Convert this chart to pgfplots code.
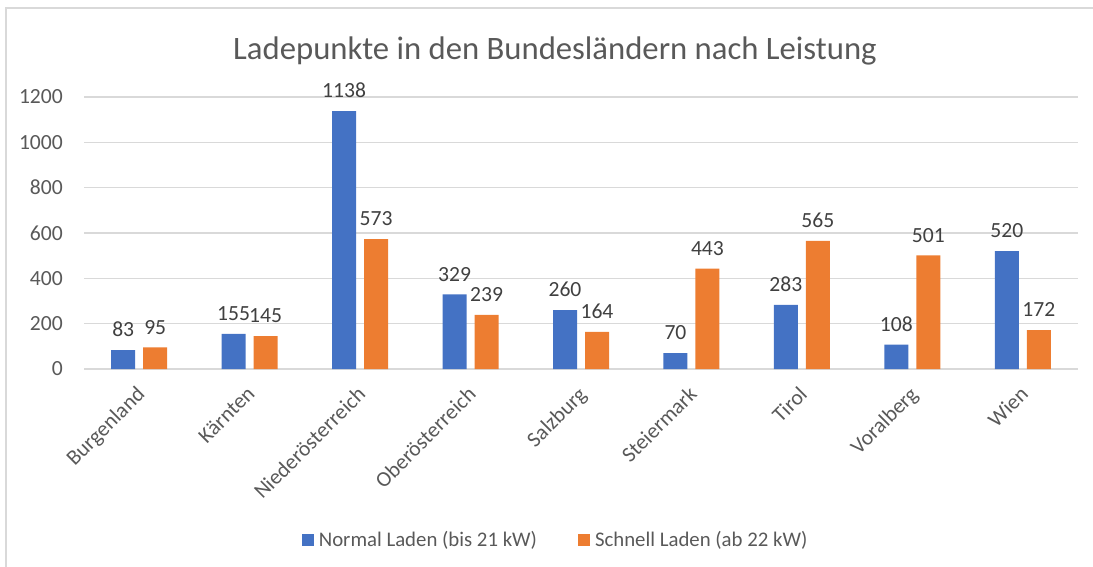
\documentclass[border=0pt]{standalone}
\usepackage{pgfplots}
\pgfplotsset{compat=1.18}
\usepackage{fontspec}
\setmainfont{Carlito}
\definecolor{cblue}{HTML}{4472C4}
\definecolor{corange}{HTML}{ED7D31}
\definecolor{cgrid}{HTML}{D9D9D9}
\definecolor{ctext}{HTML}{595959}
\definecolor{clabel}{HTML}{404040}
\begin{document}
\begin{tikzpicture}
\useasboundingbox (0,0) rectangle (1093bp,567bp);
\draw[cgrid, line width=2bp] (6bp,-2bp) -- (6bp,559bp) -- (1095bp,559bp);
\node[anchor=base, text=ctext, font=\fontsize{32.7bp}{40bp}\selectfont] at (555bp,507bp) {Ladepunkte in den Bundesländern nach Leistung};
\begin{axis}[
  at={(84bp,198bp)}, anchor=south west,
  scale only axis, width=994bp, height=272bp,
  ybar=8bp, bar width=24bp,
  xmin=-0.5, xmax=8.5, ymin=0, ymax=1200,
  xtick=data,
  xticklabels={Burgenland,Kärnten,Niederösterreich,Oberösterreich,Salzburg,Steiermark,Tirol,Voralberg,Wien},
  ytick={0,200,...,1200},
  major tick length=0pt,
  ymajorgrids, grid style={cgrid, line width=1.6bp},
  axis x line*=bottom, axis y line*=left,
  x axis line style={cgrid, line width=2bp},
  y axis line style={draw=none},
  /pgf/number format/assume math mode=true,
  /pgf/number format/1000 sep={},
  tick label style={text=ctext, font=\fontsize{21.6bp}{26bp}\selectfont},
  yticklabel style={inner sep=0pt, xshift=-21bp},
  xticklabel style={xshift=-4bp, yshift=-16bp, rotate=45, anchor=north east, inner sep=0pt},
  nodes near coords,
  every node near coord/.append style={text=clabel, font=\fontsize{21.6bp}{26bp}\selectfont, anchor=south, inner sep=0pt, yshift=13bp},
  legend columns=2,
  legend style={at={(0.476,-0.629)}, anchor=center, draw=none, fill=none,
    font=\fontsize{20.8bp}{25bp}\selectfont, text=ctext,
    /tikz/every even column/.append style={column sep=36bp},
    inner sep=0pt, nodes={inner ysep=3bp, inner xsep=5bp}},
  clip=false,
]
\addplot[fill=cblue, draw=none, legend image code/.code={\fill[cblue] (0bp,-6bp) rectangle (12bp,6bp);}]
  coordinates {(0,83) (1,155) (2,1138) (3,329) (4,260) (5,70) (6,283) (7,108) (8,520)};
\addplot[fill=corange, draw=none, legend image code/.code={\fill[corange] (0bp,-6bp) rectangle (12bp,6bp);}]
  coordinates {(0,95) (1,145) (2,573) (3,239) (4,164) (5,443) (6,565) (7,501) (8,172)};
\legend{Normal Laden (bis 21 kW), Schnell Laden (ab 22 kW)}
\end{axis}
\end{tikzpicture}
\end{document}
